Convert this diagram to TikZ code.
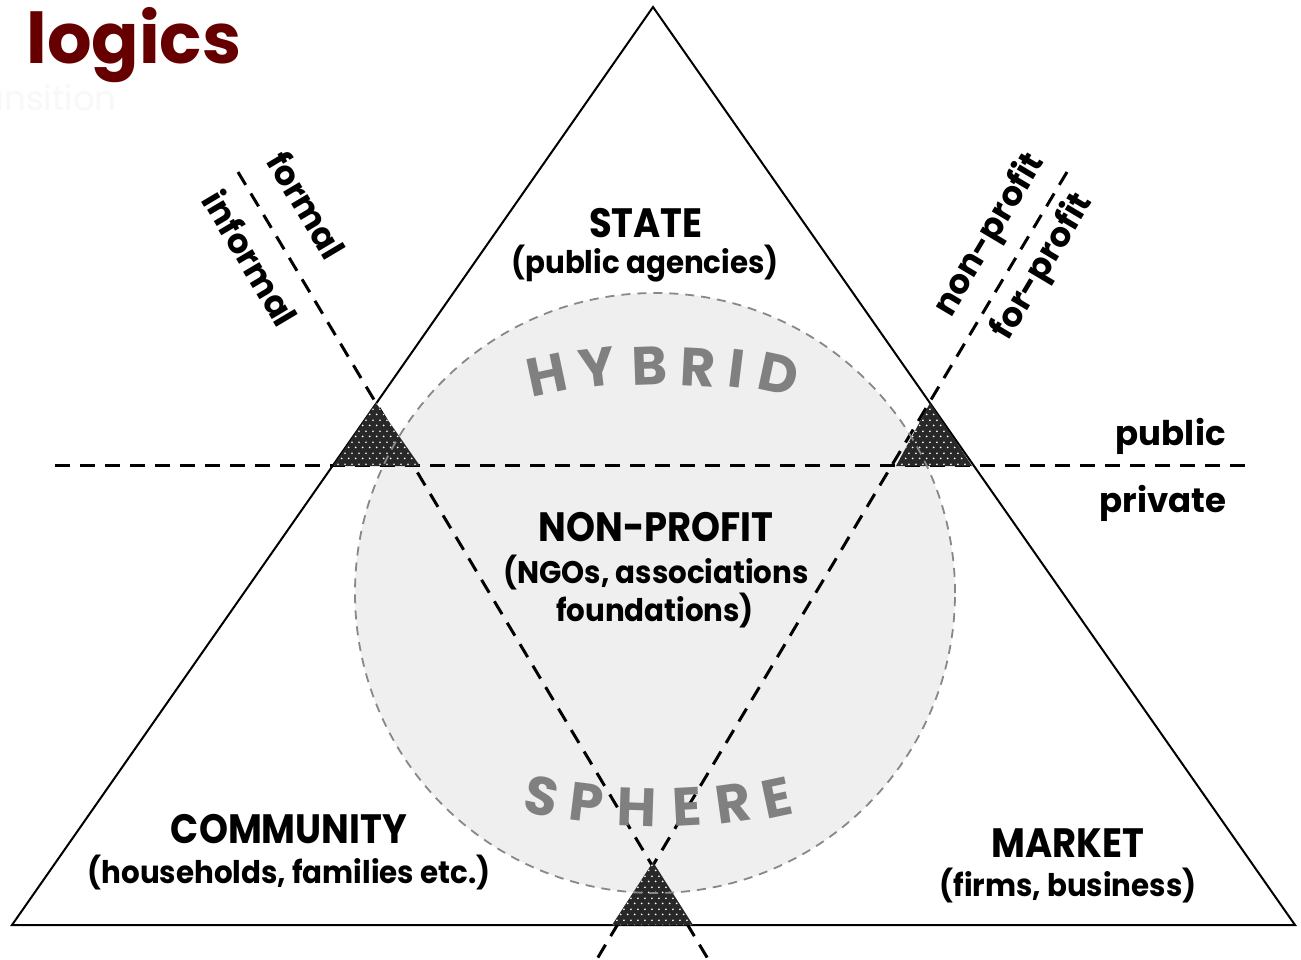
\documentclass[tikz,border=0pt]{standalone}
\usepackage{fontspec}
\setmainfont{Poppins}
\usetikzlibrary{patterns.meta}
\definecolor{logicred}{RGB}{102,0,0}
\definecolor{hgray}{RGB}{128,128,128}
\definecolor{circfill}{RGB}{239,239,239}
\definecolor{circline}{RGB}{136,136,136}
\definecolor{darkfill}{RGB}{40,40,40}
\definecolor{faintgray}{RGB}{248,248,248}
\tikzdeclarepattern{
  name=stagdots, type=uncolored,
  bottom left={(0pt,0pt)}, top right={(3.4pt,5.3pt)}, tile size={(3.4pt,5.3pt)},
  code={\fill (0.85pt,1.325pt) circle (0.5pt); \fill (2.55pt,3.975pt) circle (0.5pt);}
}
\newcommand{\capstext}[1]{\scalebox{0.9}[1]{\fontsize{20.5}{24}\selectfont #1}}
\newcommand{\subtext}[1]{\scalebox{0.94}[1]{\fontsize{15.6}{20}\selectfont #1}}
\tikzset{
  lbl/.style={font=\bfseries, inner sep=0pt, anchor=base},
  sidelbl/.style={font=\bfseries\fontsize{17}{20}\selectfont, inner sep=0pt},
  hyb/.style={font=\bfseries\fontsize{27}{30}\selectfont, text=hgray, inner sep=0pt},
  titlestyle/.style={font=\bfseries\fontsize{35}{40}\selectfont, text=logicred, inner sep=0pt, anchor=base west},
  faint/.style={font=\fontsize{17}{20}\selectfont, text=faintgray, inner sep=0pt, anchor=base east},
  blackdash/.style={draw=black, line width=1.5pt, dash pattern=on 7.5pt off 5pt},
  trisides/.style={draw=black, line width=1pt, line join=miter},
  smalltri/.style={fill=darkfill, postaction={pattern=stagdots, pattern color=white}},
  circborder/.style={draw=circline, line width=0.9pt, dash pattern=on 4.5pt off 3.5pt},
}
\begin{document}
\begin{tikzpicture}[x=0.5pt,y=-0.5pt]
\useasboundingbox (0,0) rectangle (1301,959);
\fill[white] (0,0) rectangle (1301,959);

% coordinates
\coordinate (A) at (653,7);
\coordinate (B) at (12,925);
\coordinate (C) at (1295,925);
\coordinate (hl) at (55,465);
\coordinate (hr) at (1250,465);
\coordinate (dl1) at (238,172);
\coordinate (dl2) at (708,959);
\coordinate (dr1) at (1067,172);
\coordinate (dr2) at (597,959);
\coordinate (cc) at (655,593);

% faint text and title
\node[faint] (trans) at (117,110) {transition};
\node[titlestyle] (logics) at (26,63) {logics};

% hybrid sphere fill
\fill[circfill] (cc) circle (150pt);

% dashed dividing lines
\draw[blackdash] (hl) -- (hr);
\draw[blackdash] (dl1) -- (dl2);
\draw[blackdash] (dr1) -- (dr2);

% big triangle
\draw[trisides] (A) -- (B) -- (C) -- cycle;

% small dotted triangles
\path[smalltri] (376,403) -- (333,466) -- (420,466) -- cycle;
\path[smalltri] (930,403) -- (896,466) -- (972,466) -- cycle;
\path[smalltri] (653,862) -- (612,925) -- (693,925) -- cycle;

% sphere border
\draw[circborder] (cc) circle (150pt);

% HYBRID
\node[hyb, rotate=12] (h1) at (547,375) {H};
\node[hyb, rotate=7] (h2) at (597,367) {Y};
\node[hyb, rotate=2] (h3) at (650,366) {B};
\node[hyb, rotate=-3] (h4) at (698,367) {R};
\node[hyb, rotate=-7] (h5) at (737,369) {I};
\node[hyb, rotate=-12] (h6) at (779,374) {D};
% SPHERE
\node[hyb, rotate=-12] (s1) at (542,796) {S};
\node[hyb, rotate=-7] (s2) at (587,803) {P};
\node[hyb, rotate=-2] (s3) at (637,807) {H};
\node[hyb, rotate=3] (s4) at (687,807) {E};
\node[hyb, rotate=8] (s5) at (733,803) {R};
\node[hyb, rotate=12] (s6) at (777,798) {E};

% sector labels
\node[lbl] (state) at (646,237) {\capstext{STATE}};
\node[lbl] (statesub) at (645,273) {\subtext{(public agencies)}};
\node[lbl] (np) at (656,541) {\capstext{NON-PROFIT}};
\node[lbl] (npsub1) at (656,583) {\subtext{(NGOs, associations}};
\node[lbl] (npsub2) at (655,621) {\subtext{foundations)}};
\node[lbl] (comm) at (289,843) {\capstext{COMMUNITY}};
\node[lbl] (commsub) at (289,883) {\subtext{(households, families etc.)}};
\node[lbl] (mkt) at (1068,857) {\capstext{MARKET}};
\node[lbl] (mktsub) at (1068,896) {\subtext{(firms, business)}};

% axis labels
\node[sidelbl, anchor=base east] (pub) at (1226,445) {public};
\node[sidelbl, anchor=base east] (priv) at (1227,512) {private};
\node[sidelbl, rotate=-59.2] (formal) at (307,205) {formal};
\node[sidelbl, rotate=-59.2] (informal) at (251,258) {informal};
\node[sidelbl, rotate=59.2] (nonprofit) at (990,235) {non-profit};
\node[sidelbl, rotate=59.2] (forprofit) at (1043,267) {for-profit};
\end{tikzpicture}
\end{document}
